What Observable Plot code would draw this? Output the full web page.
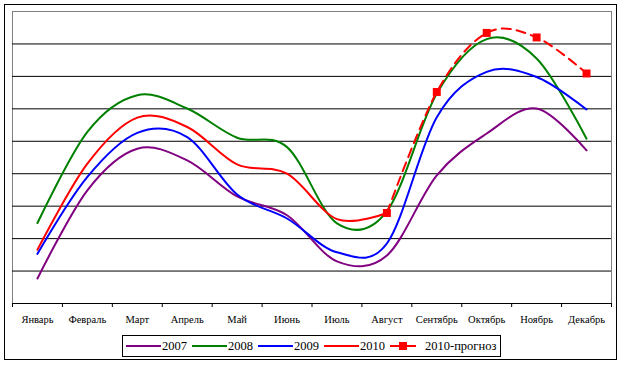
<!DOCTYPE html>
<html>
<head>
<meta charset="utf-8">
<script src="https://cdn.jsdelivr.net/npm/d3@7"></script>
<script src="https://cdn.jsdelivr.net/npm/@observablehq/plot@0.6"></script>
<style>
  html, body { margin: 0; padding: 0; background: #fff; }
  #wrap { position: relative; width: 624px; height: 365px; font-family: "Liberation Serif", "Times New Roman", serif; }
  #border { position: absolute; left: 4px; top: 4px; width: 613px; height: 356px; box-sizing: border-box; border: 1px solid #000; }
  #chart { position: absolute; left: 0; top: 0; }
  #legend { position: absolute; left: 122px; top: 335px; width: 379px; height: 22px; box-sizing: border-box; border: 1px solid #000;
            display: flex; align-items: center; padding-left: 3px; font-size: 12.5px; white-space: nowrap; }
  .item { display: flex; align-items: center; margin-right: 5px; }
  .item svg { display: block; margin-right: 1px; }
</style>
</head>
<body>
<div id="wrap">
  <div id="border"></div>
  <div id="chart"></div>
  <div id="legend"></div>
</div>
<script>
const months = ["Январь","Февраль","Март","Апрель","Май","Июнь","Июль","Август","Сентябрь","Октябрь","Ноябрь","Декабрь"];
const s2007 = [0.77, 3.49, 4.77, 4.41, 3.30, 2.72, 1.30, 1.48, 3.95, 5.24, 6.01, 4.72];
const s2008 = [2.48, 5.29, 6.42, 6.01, 5.11, 4.82, 2.47, 2.84, 6.47, 8.15, 7.55, 5.08];
const s2009 = [1.53, 3.90, 5.26, 5.13, 3.36, 2.62, 1.58, 1.85, 5.74, 7.14, 6.98, 5.98];
const s2010 = [1.66, 4.31, 5.73, 5.44, 4.29, 4.00, 2.60, 2.79];
const forecastMonths = ["Август","Сентябрь","Октябрь","Ноябрь","Декабрь"];
const forecast = [2.79, 6.52, 8.34, 8.20, 7.09];
const seriesNames = ["2007","2008","2009","2010","2010-прогноз"];
const colors = ["#800080","#008000","#0000FF","#FF0000","#FF0000"];

const rows = [];
[[seriesNames[0], s2007],[seriesNames[1], s2008],[seriesNames[2], s2009],[seriesNames[3], s2010]].forEach(([name, vals]) => {
  vals.forEach((v, i) => rows.push({series: name, m: i + 0.5, v}));
});
const fRows = forecast.map((v, i) => ({series: seriesNames[4], m: months.indexOf(forecastMonths[i]) + 0.5, v}));
const colorOf = Object.fromEntries(seriesNames.map((s, i) => [s, colors[i]]));
const serif = "'Liberation Serif', 'Times New Roman', serif";

const chart = Plot.plot({
  width: 624,
  height: 330,
  marginLeft: 12,
  marginRight: 13,
  marginTop: 11,
  marginBottom: 27,
  style: {fontFamily: serif, fontSize: "10.5px", background: "transparent", color: "#000"},
  x: {domain: [0, 12], axis: null, label: null},
  y: {domain: [0, 9], axis: null, label: null},
  marks: [
    Plot.frame({stroke: "#808080", strokeWidth: 1}),
    Plot.ruleY(d3.range(1, 9), {stroke: "#000", strokeWidth: 1}),
    Plot.ruleY([0], {stroke: "#000", strokeWidth: 1}),
    Plot.axisX({ticks: d3.range(0, 13), tickSize: 4, tickFormat: () => "", stroke: "#000", label: null}),
    Plot.axisX({ticks: d3.range(12).map(i => i + 0.5), tickSize: 0, tickPadding: 12, label: null,
                tickFormat: d => months[Math.floor(d)], fontSize: 10.5, fontFamily: serif, fill: "#000"}),
    ...seriesNames.slice(0, 4).map(s =>
      Plot.line(rows.filter(r => r.series === s), {x: "m", y: "v", stroke: colorOf[s], strokeWidth: 2, curve: "cardinal"})
    ),
    Plot.line(fRows, {x: "m", y: "v", stroke: colorOf[seriesNames[4]], strokeWidth: 2, strokeDasharray: "9,6", curve: "cardinal"}),
    Plot.dot(fRows, {x: "m", y: "v", symbol: "square", r: 4.5, fill: colorOf[seriesNames[4]], stroke: "none"})
  ]
});
document.getElementById("chart").appendChild(chart);

const legend = document.getElementById("legend");
seriesNames.forEach((s, i) => {
  const item = document.createElement("div");
  item.className = "item";
  const isF = i === 4;
  const w = isF ? 26 : 35;
  const ns = "http://www.w3.org/2000/svg";
  const svg = document.createElementNS(ns, "svg");
  svg.setAttribute("width", w);
  svg.setAttribute("height", 12);
  const ln = document.createElementNS(ns, "line");
  ln.setAttribute("x1", 0); ln.setAttribute("x2", w);
  ln.setAttribute("y1", 6); ln.setAttribute("y2", 6);
  ln.setAttribute("stroke", colors[i]); ln.setAttribute("stroke-width", 2);
  svg.appendChild(ln);
  if (isF) {
    const r = document.createElementNS(ns, "rect");
    r.setAttribute("x", w / 2 - 4); r.setAttribute("y", 2); r.setAttribute("width", 8); r.setAttribute("height", 8);
    r.setAttribute("fill", colors[i]);
    svg.appendChild(r);
    svg.style.marginRight = "9px";
  }
  item.appendChild(svg);
  const t = document.createElement("span");
  t.textContent = s;
  item.appendChild(t);
  legend.appendChild(item);
});
</script>
</body>
</html>
